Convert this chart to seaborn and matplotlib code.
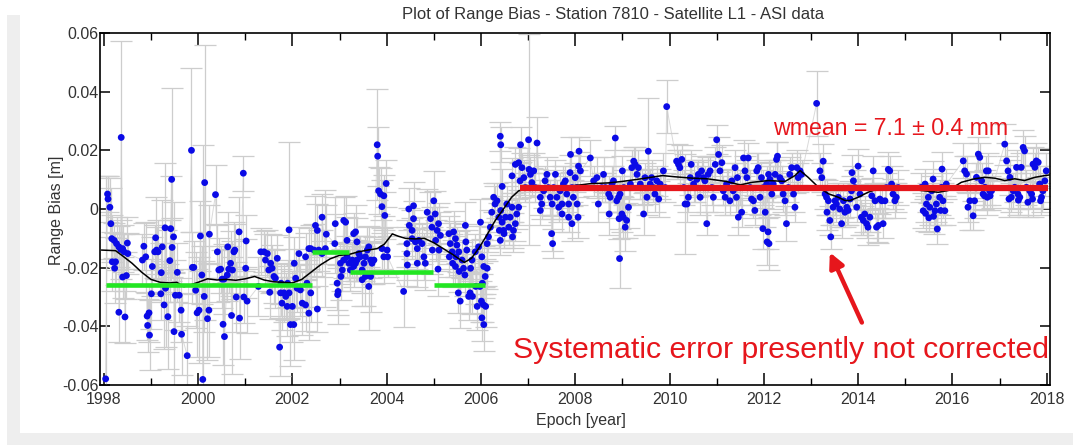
import numpy as np
import pandas as pd
import matplotlib
matplotlib.use("Agg")
import matplotlib.pyplot as plt
from matplotlib.patches import Rectangle
import seaborn as sns

# ---------------------------------------------------------------------------
# Normal-point range bias of station 7810 (epoch in years, bias and sigma in mm)
# ---------------------------------------------------------------------------
epoch_1998 = [1998.04, 1998.08, 1998.09, 1998.13, 1998.15, 1998.17, 1998.22, 1998.27, 1998.32, 1998.36,
              1998.40, 1998.43, 1998.50, 1998.51, 1998.18, 1998.25, 1998.23, 1998.32, 1998.40, 1998.48,
              1998.37, 1998.45, 1998.85, 1998.89, 1998.82, 1999.03, 1999.10, 1999.12, 1999.15, 1999.08,
              1999.24, 1999.22, 1999.01, 1999.21, 1998.96, 1998.92, 1998.93, 1998.97, 1999.30, 1999.42,
              1999.48, 1999.45, 1999.40, 1999.44, 1999.31, 1999.28, 1999.36, 1999.56, 1999.52, 1999.60,
              1999.64, 1999.49, 1999.65, 1999.77, 1999.86, 1999.88, 1999.91, 1999.95, 2000.02, 1999.98,
              2000.13, 2000.23, 2000.20, 2000.08, 2000.05, 2000.24, 2000.14, 2000.10, 2000.37, 2000.41,
              2000.44, 2000.48, 2000.51, 2000.55, 2000.62, 2000.53, 2000.56, 2000.71, 2000.63, 2000.76,
              2000.78, 2000.69, 2000.65, 2000.73, 2000.87, 2001.02, 2000.96, 2001.01, 2001.28, 2000.81,
              2000.97, 2001.04, 2000.88]
bias_1998 = [-57.9, 5.1, 3.4, 0.6, -5.0, -10.1, -10.7, -11.8, -12.9, -13.8,
             -13.5, -14.6, -11.6, -15.2, -18.0, -18.0, -20.2, -35.2, -23.2, -22.7,
             24.4, -36.8, -12.7, -16.3, -17.4, -19.6, -9.8, -14.0, -14.6, -14.6,
             -12.9, -21.7, -28.9, -28.9, -35.4, -36.5, -39.7, -43.0, -6.4, -6.7,
             -9.5, -13.1, -17.6, 10.1, -27.0, -32.7, -36.7, -21.6, -29.4, -29.4,
             -34.5, -41.8, -42.7, -50.0, 20.0, -19.9, -19.9, -27.7, -34.5, -35.4,
             -29.8, -34.5, -37.4, -22.5, -9.2, -8.6, 9.0, -58.1, 4.9, -14.6,
             -20.8, -20.5, -23.9, -23.9, -22.5, -39.3, -43.5, -36.3, -12.9, -14.6,
             -14.0, -18.5, -20.5, -20.8, -7.8, -10.9, 12.2, -20.2, -26.4, -30.0,
             -30.0, -31.4, -37.2]
sigma_1998 = [69, 6, 8, 10, 12, 8, 6, 9, 7, 10,
              8, 6, 9, 7, 10, 8, 12, 10, 7, 8,
              33, 9, 8, 12, 9, 10, 14, 8, 11, 9,
              16, 10, 12, 9, 10, 8, 9, 12, 22, 18,
              12, 10, 14, 31, 20, 15, 18, 10, 12, 9,
              11, 20, 14, 10, 28, 12, 9, 13, 18, 15,
              12, 16, 14, 10, 12, 10, 47, 80, 10, 9,
              11, 8, 10, 12, 9, 14, 18, 20, 12, 10,
              9, 11, 8, 10, 12, 9, 6, 10, 10, 12,
              9, 11, 14]

epoch_2001 = [2001.33, 2001.40, 2001.43, 2001.47, 2001.54, 2001.57, 2001.61, 2001.50, 2001.68, 2001.64,
              2001.52, 2001.75, 2001.82, 2001.78, 2001.86, 2001.89, 2001.93, 2002.00, 2001.76, 2001.90,
              2001.93, 2001.96, 2002.03, 2001.73, 2002.04, 2002.07, 2002.10, 2002.17, 2002.21, 2002.28,
              2002.31, 2002.39, 2002.35, 2002.53, 2002.14, 2002.28, 2002.35, 2002.39, 2002.46, 2002.56,
              2002.63, 2002.70, 2002.49, 2002.53, 2002.63, 2002.72, 2002.91, 2003.09, 2003.13, 2002.90,
              2002.95, 2002.97, 2002.96, 2003.02, 2003.03, 2003.06, 2003.09, 2003.16, 2003.20, 2003.23,
              2003.27, 2003.30, 2003.34, 2003.37, 2003.41, 2003.44, 2003.48, 2003.52, 2003.55, 2003.59,
              2003.62, 2003.66, 2003.69, 2003.73, 2003.66, 2003.48, 2003.62, 2003.55, 2003.16, 2003.30,
              2003.34, 2003.37, 2003.80, 2003.81, 2003.83, 2003.87, 2003.94, 2003.99, 2003.90, 2003.96,
              2003.90, 2004.01, 2003.94, 2004.02, 2004.36, 2004.47, 2004.57, 2004.48, 2004.54, 2004.57,
              2004.43, 2004.54, 2004.61, 2004.65, 2004.68, 2004.43, 2004.44, 2004.65]
bias_2001 = [-14.6, -14.6, -17.4, -15.2, -18.5, -20.2, -23.0, -20.8, -16.8, -23.6,
             -28.4, -28.6, -28.6, -32.1, -29.8, -33.2, -28.6, -33.2, -25.3, -25.3,
             -7.1, -39.4, -39.4, -47.1, -18.5, -23.6, -27.0, -27.6, -32.1, -32.7,
             -25.3, -28.6, -35.5, -34.1, -15.2, -16.3, -13.5, -13.5, -14.0, -14.0,
             -15.2, -13.5, -5.6, -7.3, -2.8, -8.6, -5.0, -3.9, -4.5, -11.8,
             -25.3, -28.1, -29.2, -18.5, -23.0, -20.8, -17.4, -16.3, -18.5, -20.8,
             -17.4, -19.6, -18.5, -17.4, -15.2, -16.3, -20.8, -18.5, -16.3, -14.0,
             -12.9, -17.4, -18.5, -17.4, -23.0, -24.1, -26.4, -23.0, -10.7, -8.4,
             -7.8, -11.2, 21.9, 18.0, 6.2, 5.1, 4.5, 8.7, 0.8, -2.2,
             -13.5, -14.0, -16.3, -16.3, -28.1, 0.0, 1.1, -5.6, -7.3, -3.3,
             -11.8, -10.1, -11.2, -13.5, -10.7, -15.2, -19.1, -18.5]
sigma_2001 = [8, 7, 9, 8, 10, 8, 9, 7, 8, 10,
              9, 8, 10, 9, 8, 10, 9, 12, 7, 8,
              30, 14, 12, 10, 9, 10, 8, 9, 11, 9,
              8, 10, 9, 8, 9, 8, 7, 8, 9, 7,
              8, 20, 10, 9, 8, 10, 9, 8, 9, 10,
              9, 8, 10, 7, 8, 7, 6, 7, 6, 7,
              6, 7, 6, 7, 6, 7, 8, 6, 7, 8,
              7, 6, 7, 8, 12, 9, 15, 10, 8, 7,
              9, 8, 19, 10, 8, 9, 7, 8, 9, 8,
              7, 8, 9, 7, 12, 7, 8, 6, 7, 6,
              8, 7, 6, 7, 8, 9, 7, 8]

epoch_2004 = [2004.75, 2004.79, 2004.82, 2004.86, 2004.93, 2005.00, 2005.03, 2004.96, 2005.07, 2005.10,
              2005.14, 2005.04, 2004.97, 2005.11, 2005.09, 2005.32, 2005.42, 2005.46, 2005.35, 2005.39,
              2005.47, 2005.49, 2005.53, 2005.67, 2005.68, 2005.70, 2005.60, 2005.33, 2005.40, 2005.46,
              2005.54, 2005.63, 2005.66, 2005.78, 2005.81, 2005.88, 2005.95, 2005.99, 2006.02, 2006.06,
              2006.09, 2006.03, 2005.98, 2006.13, 2005.89, 2005.77, 2005.74, 2005.82, 2005.56, 2005.52,
              2005.92, 2006.01, 2006.05, 2006.10, 2006.02, 2006.06, 2006.13, 2006.16, 2006.20, 2006.23,
              2006.30, 2006.27, 2006.34, 2006.38, 2006.39, 2006.41, 2006.45, 2006.48, 2006.52, 2006.42,
              2006.55, 2006.49, 2006.59, 2006.62, 2006.69, 2006.66, 2006.73, 2006.76, 2006.80, 2006.67,
              2006.45, 2006.41, 2006.42, 2006.73, 2006.80, 2006.66, 2006.87, 2006.91, 2006.94, 2006.83,
              2007.01, 2006.84, 2007.19, 2007.02, 2007.05, 2007.08, 2007.12, 2007.15, 2007.26, 2007.29,
              2007.33, 2007.36, 2007.40, 2007.43, 2007.47, 2007.51, 2007.54, 2007.58, 2007.61, 2007.65,
              2007.68, 2007.72, 2007.75, 2007.79, 2007.82, 2007.86, 2007.89, 2007.93, 2007.96, 2008.00,
              2008.03, 2008.07, 2007.90, 2008.08, 2007.50, 2007.52, 2007.93, 2007.26, 2007.72, 2007.86]
bias_2004 = [-11.8, -16.3, -18.5, -1.1, -3.3, 2.8, -1.7, -6.2, -7.3, -5.0,
             -9.0, -10.7, -14.0, -14.0, -20.5, -8.4, -7.8, -10.1, -11.8, -14.6,
             -16.3, -12.3, -14.6, -5.6, -11.2, -14.0, -17.4, -16.3, -18.5, -19.6,
             -21.3, -20.2, -22.5, -20.2, -17.4, -14.6, -12.9, -4.5, -16.3, -19.6,
             -23.0, -25.3, -26.4, -20.2, -26.4, -28.6, -29.8, -29.8, -31.4, -28.6,
             -33.2, -31.4, -32.6, -33.2, -37.1, -39.4, -11.8, -9.5, -6.2, -1.1,
             1.7, 4.0, 2.8, -2.8, -7.3, -10.7, -4.5, -7.3, -2.8, -0.5,
             1.7, -8.4, -6.2, -2.8, -7.3, 0.6, -5.0, -1.7, 0.6, -9.5,
             7.7, 24.8, 21.9, 15.2, 15.8, 11.3, 14.1, 10.7, 7.3, 9.6,
             23.6, 21.9, 22.5, 13.5, 11.8, 9.0, 13.0, 7.3, 4.0, 1.7,
             6.2, 9.6, 11.8, 7.3, 4.0, 1.7, 7.3, 11.8, 4.0, 0.6,
             6.2, 1.7, 8.5, 9.6, 5.1, 1.7, 12.4, 7.3, 4.0, 10.7,
             7.3, 14.6, 18.6, 19.7, -8.4, -11.8, -5.0, -0.5, -1.7, -2.8]
sigma_2004 = [7, 8, 9, 8, 9, 10, 8, 7, 8, 7,
              8, 7, 8, 7, 9, 6, 7, 6, 7, 6,
              7, 6, 7, 8, 6, 7, 6, 7, 8, 6,
              7, 6, 7, 6, 7, 6, 7, 8, 6, 7,
              6, 7, 6, 7, 6, 7, 8, 6, 9, 7,
              8, 7, 6, 7, 8, 9, 6, 5, 6, 5,
              6, 5, 6, 5, 6, 5, 6, 5, 6, 5,
              6, 5, 6, 5, 6, 5, 6, 5, 6, 5,
              6, 5, 6, 6, 5, 6, 5, 6, 5, 6,
              36, 6, 9, 5, 6, 5, 6, 5, 6, 5,
              6, 5, 6, 5, 6, 5, 6, 5, 6, 5,
              6, 5, 6, 5, 6, 5, 6, 5, 6, 5,
              6, 5, 6, 5, 6, 5, 6, 5, 6, 5]

epoch_2008 = [2008.11, 2008.04, 2008.06, 2008.32, 2008.39, 2008.46, 2008.49, 2008.56, 2008.60, 2008.64,
              2008.71, 2008.72, 2008.74, 2008.78, 2008.81, 2008.85, 2008.88, 2008.92, 2008.95, 2008.93,
              2008.99, 2009.02, 2009.06, 2009.09, 2009.00, 2009.03, 2009.13, 2009.17, 2009.20, 2009.24,
              2009.27, 2009.31, 2009.34, 2009.38, 2009.41, 2009.45, 2009.48, 2009.52, 2009.55, 2009.59,
              2009.62, 2009.66, 2009.69, 2009.73, 2009.77, 2009.80, 2009.87, 2009.91, 2009.94, 2010.15,
              2010.19, 2010.22, 2010.26, 2010.30, 2010.33, 2010.37, 2010.40, 2010.44, 2010.46, 2010.51,
              2010.54, 2010.58, 2010.61, 2010.65, 2010.68, 2010.72, 2010.75, 2010.79, 2010.82, 2010.86,
              2010.90, 2010.93, 2010.97, 2011.00, 2011.04, 2011.07, 2011.11, 2011.14, 2011.18, 2011.21,
              2011.25, 2011.28, 2011.32, 2011.35, 2011.39, 2011.42, 2011.46, 2008.94]
bias_2008 = [13.0, 1.7, -2.8, 17.4, 9.6, 10.7, 1.7, 7.3, 11.8, 7.3,
             5.1, -1.7, 4.0, 8.5, 9.6, 24.2, 2.8, 4.0, 5.1, -3.3,
             -1.7, -2.8, -6.2, -3.9, 13.0, 7.3, 0.6, 8.5, 14.1, 16.3,
             15.2, 11.8, 14.1, 8.5, 7.3, -1.7, 10.7, 4.0, 19.7, 8.5,
             10.7, 7.3, 5.1, 9.6, 3.4, 8.5, 13.0, 7.3, 34.9, 16.3,
             15.2, 14.1, 16.9, 7.3, 1.7, 1.7, 4.0, 10.7, 15.2, 8.5,
             7.3, 10.1, 11.8, 4.0, 13.0, 10.7, 9.6, -5.0, 11.8, 13.0,
             7.3, 4.0, 15.2, 23.6, 18.6, 13.0, 15.8, 6.2, 4.0, 8.5,
             7.3, 2.8, 9.6, 6.2, 14.1, 4.0, -2.8, -16.9]
sigma_2008 = [5, 6, 7, 6, 5, 7, 6, 5, 6, 5,
              6, 7, 5, 6, 5, 4, 6, 5, 6, 7,
              6, 7, 8, 6, 5, 6, 7, 5, 6, 5,
              6, 5, 6, 5, 6, 7, 5, 6, 18, 5,
              6, 5, 6, 5, 6, 5, 6, 5, 9, 6,
              5, 6, 5, 6, 17, 6, 5, 6, 5, 6,
              5, 6, 5, 6, 5, 6, 5, 4, 6, 5,
              6, 5, 6, 5, 6, 5, 6, 5, 6, 5,
              6, 5, 6, 5, 6, 5, 6, 10]

epoch_2011 = [2011.44, 2011.50, 2011.53, 2011.57, 2011.60, 2011.64, 2011.67, 2011.71, 2011.74, 2011.78,
              2011.81, 2011.85, 2011.88, 2011.92, 2011.95, 2011.99, 2012.03, 2012.06, 2012.10, 2012.13,
              2011.98, 2012.09, 2012.11, 2012.07, 2012.17, 2012.20, 2012.24, 2012.27, 2012.29, 2012.34,
              2012.38, 2012.41, 2012.45, 2012.48, 2012.52, 2012.55, 2012.59, 2012.63, 2012.66, 2012.70,
              2012.73, 2012.77, 2012.80, 2013.12, 2013.19, 2013.23, 2013.26, 2013.30, 2013.33, 2013.37,
              2013.34, 2013.40, 2013.42, 2013.47, 2013.51, 2013.54, 2013.58, 2013.61, 2013.65, 2013.69,
              2013.72, 2013.76, 2013.79, 2013.83, 2013.86, 2013.87, 2013.90, 2013.93, 2013.97, 2014.00,
              2014.04, 2014.07, 2014.11, 2014.14, 2014.18, 2014.21, 2014.25, 2014.29, 2014.32, 2014.36,
              2014.39, 2014.43, 2014.46, 2014.50, 2014.53, 2014.57, 2014.60, 2014.64, 2014.67, 2014.71,
              2014.74, 2014.78, 2014.81, 2014.85]
bias_2011 = [10.7, 7.3, -1.1, 17.4, 13.0, 10.7, 17.4, 7.3, 3.4, 2.8,
             -0.5, 13.0, 14.1, 4.0, 10.7, 7.3, -1.1, 8.5, 11.8, 10.1,
             -6.7, -7.8, -11.8, -11.2, 5.1, 8.5, 11.8, 16.9, 18.0, 10.7,
             9.6, 5.1, 2.8, -5.0, 7.3, 11.8, 14.1, 5.1, 0.6, 14.1,
             10.7, 13.0, 11.8, 36.0, 13.0, 10.7, 16.3, 5.1, 4.0, 2.8,
             -1.1, -3.9, -9.5, 0.6, 2.8, 1.7, 4.0, 0.0, -5.0, 2.8,
             -1.1, 0.6, -0.5, 3.4, 6.2, 12.4, 9.6, 7.3, 0.6, 14.6,
             5.1, -2.8, -3.9, -1.7, -5.0, -6.2, -2.8, 4.5, 13.0, 2.8,
             -6.2, -5.6, 3.4, 2.8, -5.0, 2.8, 7.3, 13.5, 13.0, 8.5,
             5.1, 2.8, 4.0, 7.3]
sigma_2011 = [5, 6, 5, 6, 5, 6, 5, 6, 5, 6,
              5, 6, 5, 6, 5, 6, 5, 6, 5, 6,
              7, 6, 9, 8, 5, 6, 5, 6, 5, 6,
              5, 6, 5, 6, 5, 6, 5, 6, 5, 6,
              5, 6, 5, 11, 6, 5, 6, 5, 6, 5,
              6, 5, 4, 6, 5, 6, 5, 6, 5, 6,
              5, 6, 5, 6, 5, 6, 5, 6, 5, 6,
              5, 6, 5, 6, 5, 6, 5, 6, 5, 6,
              5, 6, 5, 6, 5, 6, 5, 6, 5, 6,
              5, 6, 5, 6]

epoch_2015 = [2015.34, 2015.38, 2015.42, 2015.45, 2015.49, 2015.52, 2015.56, 2015.59, 2015.63, 2015.66,
              2015.68, 2015.73, 2015.77, 2015.80, 2015.84, 2015.78, 2015.87, 2016.23, 2016.26, 2016.30,
              2016.33, 2016.37, 2016.44, 2016.47, 2016.51, 2016.55, 2016.58, 2016.62, 2016.65, 2016.69,
              2016.72, 2016.76, 2016.79, 2016.83, 2017.11, 2017.15, 2017.18, 2017.22, 2017.25, 2017.29,
              2017.32, 2017.36, 2017.39, 2017.43, 2017.46, 2017.50, 2017.53, 2017.57, 2017.60, 2017.64,
              2017.68, 2017.71, 2017.75, 2017.78, 2017.82, 2017.85, 2017.89, 2017.92, 2017.96, 2017.99,
              2016.68, 2016.74, 2016.80, 2017.20, 2017.40, 2017.70, 2017.87, 2015.43, 2015.50, 2015.60,
              2015.75]
bias_2015 = [7.4, -0.6, 8.5, 1.7, 4.0, 0.6, 6.2, 10.2, -0.6, 1.7,
             -6.8, 4.0, 7.4, 2.8, -0.6, 13.6, 8.5, 16.4, 13.0, 11.9,
             0.6, 2.8, -2.3, 2.8, 10.8, 18.7, 17.6, 9.6, 5.1, 7.4,
             13.0, 13.0, 6.2, 6.2, 22.1, 16.4, 13.0, 10.8, 4.0, 6.2,
             7.4, 14.2, 5.1, 4.0, 14.2, 21.0, 19.8, 7.4, 2.3, 6.2,
             5.1, 15.3, 14.2, 16.4, 15.9, 8.5, 4.0, 6.2, 9.6, 13.0,
             4.5, 4.0, 4.5, 3.4, 3.0, 3.4, 2.8, -1.5, -3.0, -2.5,
             -0.5]
sigma_2015 = [5, 6, 5, 6, 5, 6, 5, 6, 5, 6,
              5, 6, 5, 6, 5, 6, 5, 6, 5, 6,
              5, 10, 5, 6, 5, 6, 5, 6, 5, 6,
              5, 6, 5, 6, 7, 6, 5, 6, 5, 6,
              5, 6, 5, 6, 5, 6, 5, 6, 5, 6,
              5, 6, 5, 6, 5, 6, 5, 6, 5, 6,
              5, 6, 5, 6, 5, 6, 5, 6, 5, 6,
              5]

# Smoothed running mean of the bias (mm)
trend_epoch = [1997.95, 1998.25, 1998.40, 1998.60, 1998.80, 1999.00, 1999.20, 1999.40, 1999.55, 1999.70,
               1999.85, 2000.00, 2000.20, 2000.40, 2000.60, 2000.80, 2001.00, 2001.20, 2001.40, 2001.60,
               2001.80, 2002.00, 2002.20, 2002.40, 2002.60, 2002.80, 2003.00, 2003.20, 2003.40, 2003.60,
               2003.80, 2003.95, 2004.12, 2004.25, 2004.40, 2004.60, 2004.80, 2005.00, 2005.20, 2005.40,
               2005.55, 2005.65, 2005.80, 2005.95, 2006.10, 2006.30, 2006.50, 2006.65, 2006.80, 2006.95,
               2007.20, 2007.60, 2008.00, 2008.30, 2008.70, 2009.00, 2009.40, 2009.85, 2010.10, 2010.50,
               2010.80, 2011.20, 2011.50, 2011.75, 2012.10, 2012.45, 2012.66, 2012.77, 2012.94, 2013.16,
               2013.37, 2013.58, 2013.72, 2013.83, 2014.00, 2014.21, 2014.43, 2014.64, 2014.85, 2015.10,
               2015.34, 2015.70, 2015.91, 2016.19, 2016.47, 2016.69, 2016.90, 2017.11, 2017.32, 2017.53,
               2017.75, 2017.96, 2018.06]
trend_bias = [-14.0, -14.2, -16.0, -18.5, -21.5, -24.0, -25.0, -25.2, -25.0, -26.5,
              -25.8, -25.0, -23.8, -24.2, -24.0, -24.3, -23.8, -23.0, -24.2, -24.8,
              -25.0, -25.2, -24.0, -21.5, -19.0, -17.0, -15.8, -15.5, -14.6, -14.0,
              -13.5, -12.0, -8.5, -9.3, -10.0, -10.2, -10.0, -11.5, -13.5, -15.5,
              -17.2, -18.2, -16.8, -13.5, -9.6, -4.0, 0.5, 4.0, 6.2, 6.8,
              7.2, 7.6, 8.0, 8.6, 8.9, 9.4, 10.3, 11.4, 11.0, 10.5,
              10.3, 9.4, 8.2, 9.1, 9.7, 9.4, 11.4, 13.1, 10.8, 7.4,
              5.2, 4.0, 2.9, 2.9, 4.0, 5.7, 6.9, 7.4, 6.9, 6.9,
              6.3, 5.7, 6.3, 9.1, 10.3, 10.8, 10.5, 9.7, 10.3, 9.7,
              10.8, 11.4, 11.6]

# Mean bias of the early data blocks (mm)
block_start = [1998.04, 2002.42, 2003.22, 2005.00]
block_end = [2002.42, 2003.20, 2004.99, 2006.09]
block_mean = [-25.8, -14.7, -21.6, -25.8]

# Weighted mean since late 2006 (mm)
wmean_mm = 7.1
wmean_err_mm = 0.4
wmean_start, wmean_end = 2006.82, 2018.02

year_ticks = [1998, 2000, 2002, 2004, 2006, 2008, 2010, 2012, 2014, 2016, 2018]
bias_ticks = [-0.06, -0.04, -0.02, 0.0, 0.02, 0.04, 0.06]
bias_tick_labels = ["-0.06", "-0.04", "-0.02", "0", "0.02", "0.04", "0.06"]

# ---------------------------------------------------------------------------
sns.set_style("ticks")
plt.rcParams["font.family"] = ["Liberation Sans", "DejaVu Sans"]
plt.rcParams["axes.unicode_minus"] = False

BLUE = "#0a0ae6"
RED = "#e6161c"
GREEN = "#22e622"
TEXT = "#333333"

df = pd.DataFrame({
    "epoch": np.concatenate([epoch_1998, epoch_2001, epoch_2004, epoch_2008, epoch_2011, epoch_2015]),
    "bias": np.concatenate([bias_1998, bias_2001, bias_2004, bias_2008, bias_2011, bias_2015]) / 1000.0,
    "sigma": np.concatenate([sigma_1998, sigma_2001, sigma_2004, sigma_2008, sigma_2011, sigma_2015]) / 1000.0,
}).sort_values("epoch", kind="stable").reset_index(drop=True)

W, H = 1073, 445
fig = plt.figure(figsize=(W / 100, H / 100), dpi=100)
fig.patch.set_facecolor("white")
fig.patches.append(Rectangle((7 / W, 0), 13 / W, 430 / H, transform=fig.transFigure,
                             facecolor="#eeeeee", edgecolor="none", zorder=0))
fig.patches.append(Rectangle((7 / W, 0), 1, 12 / H, transform=fig.transFigure,
                             facecolor="#eeeeee", edgecolor="none", zorder=0))

ax = fig.add_axes([100 / W, 1 - 385 / H, 950 / W, 352 / H])
ax.set_facecolor("white")

# thin connection between consecutive normal points
ax.plot(df["epoch"], df["bias"], color="#dadada", lw=0.7, zorder=1)
# error bars with wide caps
ax.errorbar(df["epoch"], df["bias"], yerr=df["sigma"], fmt="none",
            ecolor="#cdcdcd", elinewidth=0.9, capsize=8, capthick=0.9, zorder=1.5)
sns.scatterplot(data=df, x="epoch", y="bias", ax=ax, color=BLUE, s=24,
                edgecolor="none", linewidth=0, zorder=3, legend=False)

trend = pd.DataFrame({"epoch": trend_epoch, "bias": np.array(trend_bias) / 1000.0})
sns.lineplot(data=trend, x="epoch", y="bias", ax=ax, color="black", lw=1.1,
             sort=False, estimator=None, zorder=4)

blocks = pd.DataFrame({"start": block_start, "end": block_end,
                       "mean": np.array(block_mean) / 1000.0})
ax.hlines(blocks["mean"], blocks["start"], blocks["end"], color=GREEN, lw=3.3, zorder=5)
ax.hlines(wmean_mm / 1000.0, wmean_start, wmean_end, color=RED, lw=4.5, zorder=5)

ax.set_xlim(1997.92, 2018.07)
ax.set_ylim(-0.06, 0.06)
ax.set_xticks(year_ticks)
ax.set_xticks(np.arange(1999, 2018, 2), minor=True)
ax.set_xticklabels([str(y) for y in year_ticks])
ax.set_yticks(bias_ticks)
ax.set_yticklabels(bias_tick_labels)
ax.set_xlabel("")
ax.set_ylabel("")

ax.tick_params(which="major", direction="in", length=9, width=1.1, color="black",
               top=True, right=True, labelsize=11.5, labelcolor=TEXT)
ax.tick_params(which="minor", direction="in", length=5, width=1.0, color="black",
               top=True, bottom=True)
ax.tick_params(axis="y", which="major", length=7, pad=1)
ax.tick_params(axis="x", which="major", pad=5)
for sp in ax.spines.values():
    sp.set_visible(True)
    sp.set_color("black")
    sp.set_linewidth(1.2)

fig.text(613 / W, 1 - 14 / H, "Plot of Range Bias - Station 7810 - Satellite L1 - ASI data",
         ha="center", va="center", fontsize=12, color=TEXT)
fig.text(57 / W, 1 - 210 / H, "Range Bias [m]", rotation=90, ha="center", va="center",
         fontsize=11.5, color=TEXT)
fig.text(581 / W, 1 - 420 / H, "Epoch [year]", ha="center", va="center",
         fontsize=11.5, color=TEXT)

ax.text(2014.68, 0.0273, f"wmean = {wmean_mm:.1f} \u00b1 {wmean_err_mm:.1f} mm",
        ha="center", va="center", fontsize=16.7, color=RED, zorder=6)
ax.text(2012.36, -0.0482, "Systematic error presently not corrected",
        ha="center", va="center", fontsize=21.8, color=RED, zorder=6)
ax.annotate("", xy=(2013.40, -0.0148), xytext=(2014.08, -0.0387),
            arrowprops=dict(arrowstyle="-|>", color=RED, lw=3.2, mutation_scale=22,
                            shrinkA=0, shrinkB=0), zorder=6)

fig.savefig("out.png", dpi=100, facecolor=fig.get_facecolor())
